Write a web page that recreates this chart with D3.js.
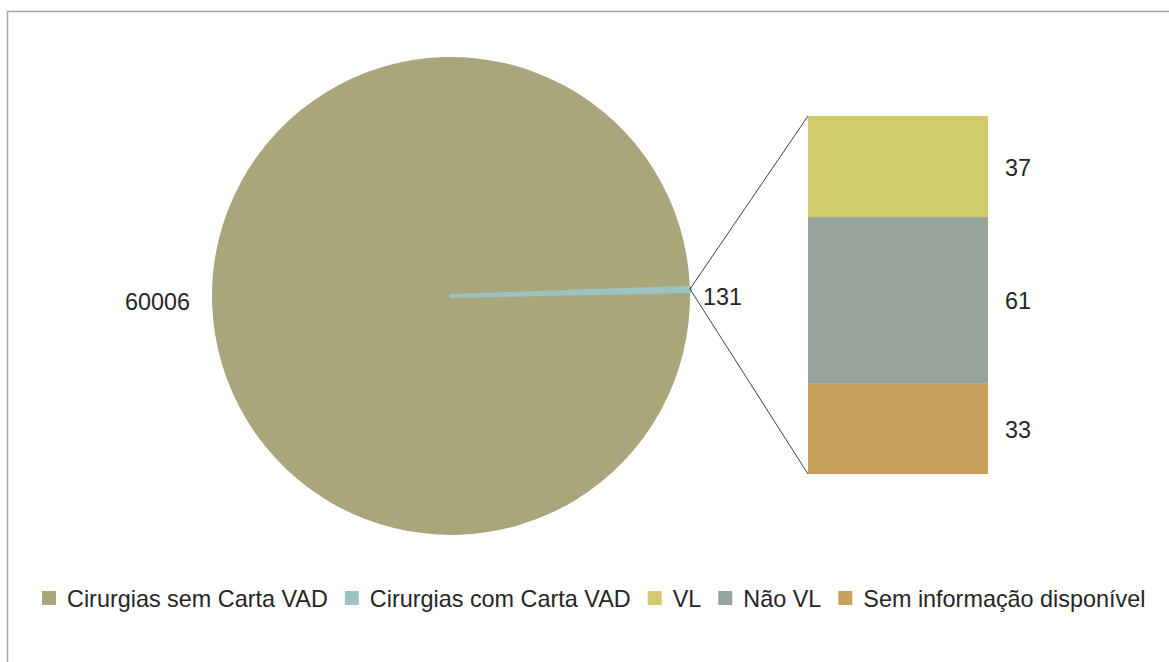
<!DOCTYPE html>
<html>
<head>
<meta charset="utf-8">
<title>Cirurgias com Carta VAD</title>
<style>
  body { margin: 0; background: #fff; }
  svg { display: block; }
  text { font-family: "Liberation Sans", Arial, sans-serif; fill: #262626; }
</style>
</head>
<body>
<script src="https://cdnjs.cloudflare.com/ajax/libs/d3/7.8.5/d3.min.js"></script>
<script>
// pie data
const pieNames = ["Cirurgias sem Carta VAD", "Cirurgias com Carta VAD"];
const pieValues = [60006, 131];
const pieColors = ["#a9a67c", "#9cc3c3"];

// bar (breakdown of the 131)
const barNames = ["VL", "Não VL", "Sem informação disponível"];
const barValues = [37, 61, 33];
const barColors = ["#d2cb6c", "#96a39a", "#c89f5e"];

const W = 1169, H = 662;
const cx = 451, cy = 296, r = 239;
const fontSize = 23.4;

const svg = d3.select("body").append("svg")
    .attr("width", W)
    .attr("height", H);

// chart frame
svg.append("path")
    .attr("d", `M${W},11.5 H7.5 V${H}`)
    .attr("fill", "none")
    .attr("stroke", "#a6a6a6")
    .attr("stroke-width", 1.5);

// pie: the small slice sits just above 3 o'clock
const small = pieValues[1] / d3.sum(pieValues) * 2 * Math.PI;
const pie = d3.pie().sort(null)
    .startAngle(Math.PI / 2)
    .endAngle(Math.PI / 2 + 2 * Math.PI);
const arcs = pie(pieValues);
const arc = d3.arc().innerRadius(0).outerRadius(r);

const g = svg.append("g").attr("transform", `translate(${cx},${cy})`);

const rot = -small * 180 / Math.PI - 0.4;
const pg = g.append("g").attr("transform", `rotate(${rot})`);
pg.selectAll("path")
    .data(arcs)
    .enter()
    .append("path")
    .attr("d", arc)
    .attr("fill", (d, i) => pieColors[i])
    .attr("stroke", (d, i) => i === 1 ? pieColors[i] : "none")
    .attr("stroke-width", 4)
    .attr("stroke-linejoin", "round");

// bar stack
const barX = 808, barW = 180;
const y = d3.scaleLinear()
    .domain([0, d3.sum(barValues)])
    .range([116, 474]);
const cum = d3.cumsum(barValues);
const stack = barValues.map((v, i) => ({ v, y0: cum[i] - v, y1: cum[i] }));

svg.selectAll("rect.bar")
    .data(stack)
    .enter()
    .append("rect")
    .attr("class", "bar")
    .attr("x", barX)
    .attr("width", barW)
    .attr("y", d => y(d.y0))
    .attr("height", d => y(d.y1) - y(d.y0))
    .attr("fill", (d, i) => barColors[i]);

svg.selectAll("text.barlab")
    .data(stack)
    .enter()
    .append("text")
    .attr("class", "barlab")
    .attr("x", 1005)
    .attr("y", d => (y(d.y0) + y(d.y1)) / 2 + 9)
    .style("font-size", fontSize + "px")
    .text(d => d.v);

// connector lines from small slice edges to bar corners
const a0 = arcs[1].startAngle + rot * Math.PI / 180;
const a1 = arcs[1].endAngle + rot * Math.PI / 180;
const pt = (a, rr) => [cx + rr * Math.sin(a), cy - rr * Math.cos(a)];
const p0 = pt(a0, r), p1 = pt(a1 - 0.008, r);
svg.append("line")
    .attr("x1", p1[0]).attr("y1", p1[1])
    .attr("x2", barX).attr("y2", y(0))
    .attr("stroke", "#404040");
svg.append("line")
    .attr("x1", p0[0]).attr("y1", p0[1] + 1)
    .attr("x2", barX).attr("y2", y(d3.sum(barValues)))
    .attr("stroke", "#404040");

// pie labels
svg.append("text")
    .attr("x", 190).attr("y", 310)
    .attr("text-anchor", "end")
    .style("font-size", fontSize + "px")
    .text(pieValues[0]);
svg.append("text")
    .attr("x", 703).attr("y", 305)
    .style("font-size", fontSize + "px")
    .text(pieValues[1]);

// legend
const legNames = pieNames.concat(barNames);
const legColors = pieColors.concat(barColors);
const leg = svg.append("g");
let lx = 42;
legNames.forEach((name, i) => {
    leg.append("rect")
        .attr("x", lx).attr("y", 591)
        .attr("width", 14).attr("height", 14)
        .attr("fill", legColors[i]);
    const t = leg.append("text")
        .attr("x", lx + 25).attr("y", 607)
        .style("font-size", fontSize + "px")
        .text(name);
    lx += 25 + t.node().getComputedTextLength() + 17;
});
</script>
</body>
</html>
